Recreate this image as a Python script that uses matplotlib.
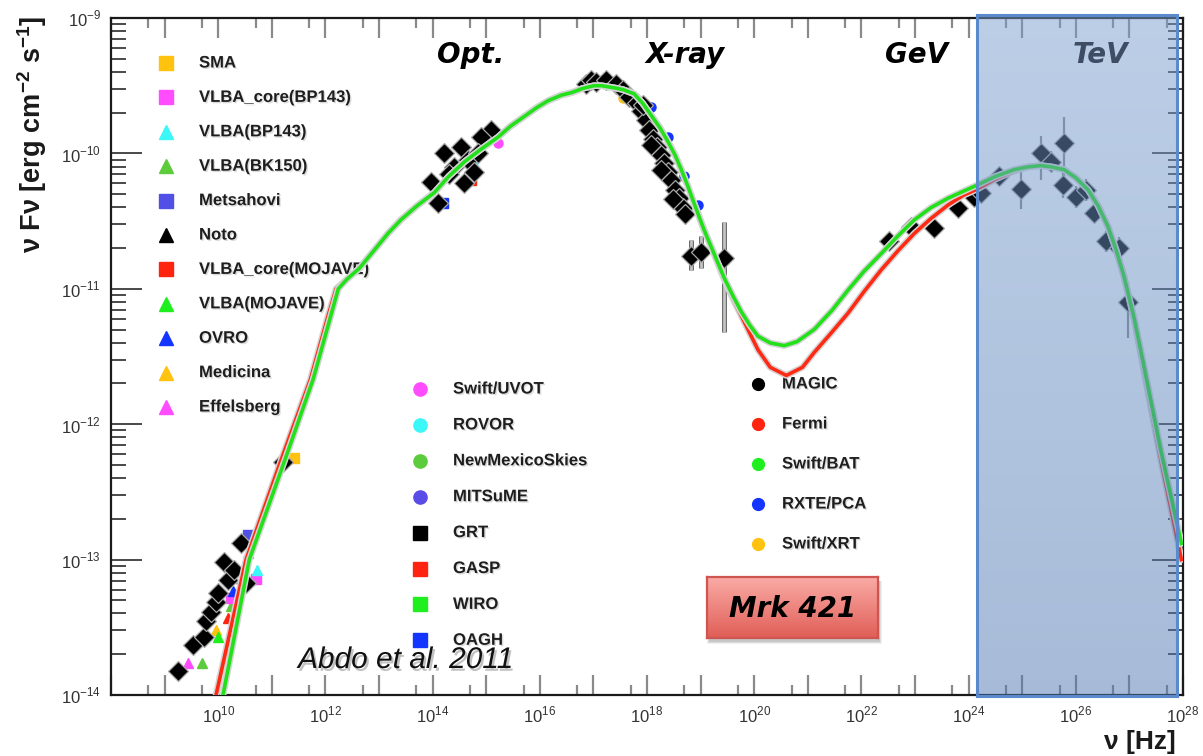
import numpy as np
import matplotlib.pyplot as plt
import matplotlib.patheffects as pe
from matplotlib.patches import Rectangle
from matplotlib.ticker import LogLocator, NullFormatter

W, H = 1203, 756

# SSC model curves: log10(nu [Hz]) and log10(nuFnu [erg cm-2 s-1])
green_lognu = [10.09, 10.58, 11.23, 11.77, 12.10, 12.24, 12.40, 12.63, 12.90, 13.17,
               13.41, 13.70, 14.03, 14.30, 14.60, 14.90, 15.22, 15.45, 15.70, 15.95,
               16.16, 16.40, 16.60, 16.80, 17.01, 17.15, 17.30, 17.45, 17.56, 17.66,
               17.76, 17.92, 18.08, 18.24, 18.40, 18.52, 18.64, 18.76, 18.88, 19.07,
               19.25, 19.44, 19.60, 19.76, 19.92, 20.07, 20.30, 20.56, 20.80, 21.12,
               21.45, 21.75, 22.05, 22.37, 22.68, 22.99, 23.30, 23.62, 23.90, 24.18,
               24.50, 24.85, 25.10, 25.35, 25.55, 25.78, 26.00, 26.23, 26.42, 26.60,
               26.75, 26.90, 27.09, 27.26, 27.59, 27.97]
green_logf = [-14.00, -13.00, -12.28, -11.67, -11.20, -11.00, -10.93, -10.85, -10.72, -10.59,
              -10.49, -10.39, -10.29, -10.17, -10.06, -9.97, -9.88, -9.80, -9.73, -9.66,
              -9.61, -9.57, -9.55, -9.52, -9.50, -9.50, -9.51, -9.52, -9.53, -9.545,
              -9.56, -9.63, -9.72, -9.81, -9.92, -10.01, -10.12, -10.24, -10.37, -10.57,
              -10.74, -10.92, -11.05, -11.17, -11.27, -11.35, -11.40, -11.42, -11.39, -11.30,
              -11.16, -11.01, -10.87, -10.74, -10.61, -10.49, -10.40, -10.33, -10.28, -10.23,
              -10.17, -10.12, -10.10, -10.09, -10.10, -10.12, -10.18, -10.27, -10.39, -10.54,
              -10.71, -10.91, -11.22, -11.55, -12.20, -12.88]

red_lognu = [9.96, 10.52, 11.16, 11.72, 12.05, 12.20, 12.40, 12.63, 12.90, 13.17,
             13.41, 13.70, 14.03, 14.30, 14.60, 14.90, 15.22, 15.45, 15.70, 15.95,
             16.16, 16.40, 16.60, 16.80, 17.01, 17.15, 17.30, 17.45, 17.56, 17.66,
             17.76, 17.92, 18.08, 18.24, 18.40, 18.52, 18.64, 18.76, 18.88, 19.07,
             19.25, 19.44, 19.60, 19.76, 19.92, 20.07, 20.30, 20.60, 20.90, 21.12,
             21.45, 21.75, 22.05, 22.37, 22.68, 22.99, 23.30, 23.62, 23.90, 24.18,
             24.50, 24.85, 25.10, 25.35, 25.55, 25.78, 26.00, 26.23, 26.42, 26.60,
             26.75, 26.90, 27.09, 27.26, 27.59, 27.97]
red_logf = [-14.00, -13.00, -12.28, -11.67, -11.20, -11.00, -10.93, -10.85, -10.72, -10.59,
            -10.49, -10.39, -10.29, -10.17, -10.06, -9.97, -9.88, -9.80, -9.73, -9.66,
            -9.61, -9.57, -9.55, -9.52, -9.50, -9.50, -9.51, -9.52, -9.53, -9.545,
            -9.56, -9.63, -9.72, -9.81, -9.92, -10.01, -10.12, -10.24, -10.37, -10.57,
            -10.74, -10.93, -11.07, -11.20, -11.33, -11.45, -11.58, -11.64, -11.58, -11.47,
            -11.32, -11.18, -11.02, -10.86, -10.72, -10.59, -10.48, -10.38, -10.31, -10.26,
            -10.19, -10.13, -10.10, -10.09, -10.10, -10.12, -10.18, -10.27, -10.39, -10.54,
            -10.71, -10.91, -11.23, -11.58, -12.27, -13.00]

# black diamonds (combined light curves per band)
radio_lognu = [9.25, 9.53, 9.74, 9.78, 9.87, 9.96, 10.00, 10.19, 10.11, 10.30, 10.43, 10.52, 11.21]
radio_logf = [-13.82, -13.63, -13.57, -13.45, -13.39, -13.31, -13.25, -13.15, -13.02, -13.08,
              -12.88, -13.17, -12.28]

optical_lognu = [14.10, 13.97, 14.22, 14.53, 14.66, 14.40, 14.78, 15.09, 14.91, 14.58, 14.30, 14.85]
optical_logf = [-10.37, -10.21, -10.00, -9.95, -10.05, -10.10, -10.14, -9.83, -9.88, -10.22,
                -10.15, -10.00]

xray_lognu = [16.87, 16.96, 17.05, 17.24, 17.43, 17.56, 17.67, 17.82, 17.89, 17.99,
              18.04, 18.12, 18.19, 18.26, 18.32, 18.40, 18.45, 18.53, 18.60, 18.68,
              18.71, 17.93, 18.08, 18.26, 18.49]
xray_logf = [-9.49, -9.46, -9.47, -9.46, -9.49, -9.53, -9.58, -9.63, -9.69, -9.75,
             -9.83, -9.89, -9.95, -10.01, -10.07, -10.14, -10.20, -10.27, -10.33, -10.40,
             -10.45, -9.64, -9.94, -10.12, -10.34]

hardx_lognu = [18.82, 19.01, 19.44]
hardx_logf = [-10.76, -10.73, -10.77]
hardx_err_lo = [0.10, 0.12, 0.55]
hardx_err_hi = [0.12, 0.12, 0.26]

fermi_lognu = [22.52, 22.93, 23.36, 23.81, 24.10]
fermi_logf = [-10.65, -10.54, -10.55, -10.40, -10.32]

magic_lognu = [24.24, 24.57, 24.98, 25.35, 25.54, 25.78, 25.76, 26.00, 26.19, 26.34, 26.57, 26.81, 26.98]
magic_logf = [-10.29, -10.17, -10.26, -10.00, -10.06, -9.92, -10.23, -10.32, -10.27, -10.44,
              -10.65, -10.70, -11.10]
magic_err_lo = [0.06, 0.07, 0.15, 0.20, 0.08, 0.25, 0.10, 0.08, 0.08, 0.06, 0.08, 0.08, 0.26]
magic_err_hi = [0.06, 0.07, 0.15, 0.13, 0.08, 0.19, 0.10, 0.08, 0.08, 0.06, 0.08, 0.08, 0.15]

# individual instruments: (log nu, log nuFnu), marker, colour
instruments = {
    'Effelsberg': ([9.44, 10.56], [-13.76, -12.95], '^', '#ff4cff'),
    'VLBA(BK150)': ([9.70, 10.24], [-13.76, -13.34], '^', '#5ccc3c'),
    'Medicina': ([9.96], [-13.52], '^', '#ffc20e'),
    'VLBA(MOJAVE)': ([10.00], [-13.57], '^', '#1fef1f'),
    'VLBA_core(MOJAVE)': ([10.19], [-13.43], '^', '#ff2410'),
    'VLBA_core(BP143)': ([10.24, 10.71], [-13.28, -13.14], 's', '#ff4cff'),
    'OVRO': ([10.28], [-13.23], '^', '#1434ff'),
    'Metsahovi': ([10.56], [-12.82], 's', '#5050e6'),
    'VLBA(BP143)': ([10.73], [-13.08], '^', '#3cf7f7'),
    'SMA': ([11.42], [-12.25], 's', '#ffc20e'),
    'OAGH': ([14.20], [-10.37], 's', '#1434ff'),
    'GASP': ([14.72], [-10.20], 's', '#ff2410'),
    'ROVOR': ([14.76], [-10.07], 'o', '#3cf7f7'),
    'Swift/UVOT': ([15.22], [-9.92], 'o', '#ff4cff'),
    'Swift/XRT': ([17.56], [-9.59], 'o', '#ffc20e'),
    'RXTE/PCA': ([18.08, 18.40, 18.69, 18.96], [-9.66, -9.88, -10.17, -10.38], 'o', '#1434ff'),
}

key1_labels = ['SMA', 'VLBA_core(BP143)', 'VLBA(BP143)', 'VLBA(BK150)', 'Metsahovi', 'Noto',
               'VLBA_core(MOJAVE)', 'VLBA(MOJAVE)', 'OVRO', 'Medicina', 'Effelsberg']
key1_markers = ['s', 's', '^', '^', 's', '^', 's', '^', '^', '^', '^']
key1_colors = ['#ffc20e', '#ff4cff', '#3cf7f7', '#5ccc3c', '#5050e6', '#000000',
               '#ff2410', '#1fef1f', '#1434ff', '#ffc20e', '#ff4cff']

key2_labels = ['Swift/UVOT', 'ROVOR', 'NewMexicoSkies', 'MITSuME', 'GRT', 'GASP', 'WIRO', 'OAGH']
key2_markers = ['o', 'o', 'o', 'o', 's', 's', 's', 's']
key2_colors = ['#ff4cff', '#3cf7f7', '#5ccc3c', '#5a4ce6', '#000000', '#ff2410', '#1fef1f', '#1434ff']

key3_labels = ['MAGIC', 'Fermi', 'Swift/BAT', 'RXTE/PCA', 'Swift/XRT']
key3_markers = ['o', 'o', 'o', 'o', 'o']
key3_colors = ['#000000', '#ff2410', '#1fef1f', '#1434ff', '#ffc20e']

band_labels = ['Opt.', 'X-ray', 'GeV', 'TeV']
band_centers = [471, 685, 917, 1100]


def fx(px):
    return px / W


def fy(py):
    return 1 - py / H


def p10(vals):
    return 10.0 ** np.asarray(vals)


plt.rcParams['font.family'] = 'Liberation Sans'
plt.rcParams['mathtext.fontset'] = 'custom'
plt.rcParams['mathtext.rm'] = 'Liberation Sans'
plt.rcParams['mathtext.bf'] = 'Liberation Sans:bold'

fig = plt.figure(figsize=(W / 100, H / 100), dpi=100)
ax = fig.add_axes([fx(111), fy(695), (1183 - 111) / W, (695 - 18) / H])

ax.set_xscale('log')
ax.set_yscale('log')
ax.set_xlim(1e8, 1e28)
ax.set_ylim(1e-14, 1e-9)

# axis styling, ROOT-like inward ticks on all four sides
for s in ax.spines.values():
    s.set_linewidth(1.6)
    s.set_color('#1a1a1a')

xmaj = p10(np.arange(8, 29))
ax.set_xticks(xmaj, labels=['$10^{%d}$' % e if e % 2 == 0 and e > 8 else '' for e in range(8, 29)])
ax.xaxis.set_minor_locator(LogLocator(base=10, subs=[5], numticks=100))
ax.xaxis.set_minor_formatter(NullFormatter())
ax.set_yticks(p10(np.arange(-14, -8)), labels=['$10^{%d}$' % e for e in range(-14, -8)])
ax.yaxis.set_minor_locator(LogLocator(base=10, subs=range(2, 10), numticks=100))
ax.yaxis.set_minor_formatter(NullFormatter())

ax.tick_params(axis='x', which='both', direction='in', top=True, bottom=True,
               color='#8a8a8a', width=1.6, labelsize=12, labelcolor='#333333', pad=7)
ax.tick_params(axis='x', which='major', length=14.5)
ax.tick_params(axis='x', which='minor', length=7)
ax.tick_params(axis='y', which='both', direction='in', left=True, right=True,
               color='#2a2a2a', width=1.2, labelsize=12, labelcolor='#333333', pad=7)
ax.tick_params(axis='y', which='major', length=22)
ax.tick_params(axis='y', which='minor', length=11)

# instrument markers
for name, (ln, lf, mk, col) in instruments.items():
    ax.plot(p10(ln), p10(lf), ls='none', marker=mk, ms=6.5, color=col, mec=col, zorder=2.5)

# error bars
diamond_kw = dict(ls='none', marker='D', ms=10.5, mfc='black', mec='#a8a8a8', mew=0.9, zorder=3)
bar_fx = [pe.Stroke(linewidth=3.4, foreground='#555555'), pe.Normal()]

hx = p10(hardx_logf)
eb = ax.errorbar(p10(hardx_lognu), hx,
                 yerr=[hx - p10(np.array(hardx_logf) - hardx_err_lo),
                       p10(np.array(hardx_logf) + hardx_err_hi) - hx],
                 fmt='none', ecolor='#c4c4c4', elinewidth=2, capsize=0, zorder=2.8)
eb[2][0].set_path_effects(bar_fx)

mg = p10(magic_logf)
eb = ax.errorbar(p10(magic_lognu), mg,
                 yerr=[mg - p10(np.array(magic_logf) - magic_err_lo),
                       p10(np.array(magic_logf) + magic_err_hi) - mg],
                 fmt='none', ecolor='#8c8c8c', elinewidth=1.6, capsize=0, zorder=2.8)

for ln, lf in [(radio_lognu, radio_logf), (optical_lognu, optical_logf),
               (xray_lognu, xray_logf), (hardx_lognu, hardx_logf),
               (fermi_lognu, fermi_logf), (magic_lognu, magic_logf)]:
    ax.plot(p10(ln), p10(lf), **diamond_kw)

# model curves
halo = [pe.Stroke(linewidth=4.8, foreground='#d4d4d4'), pe.Normal()]
ax.plot(p10(red_lognu), p10(red_logf), color='#ff2a14', lw=2.6, zorder=5,
        path_effects=halo, solid_joinstyle='round')
ax.plot(p10(green_lognu), p10(green_logf), color='#22e01a', lw=2.6, zorder=5.1,
        path_effects=halo, solid_joinstyle='round')

# keys drawn by hand in figure coordinates
text_fx = [pe.withSimplePatchShadow(offset=(1, -1), shadow_rgbFace='#999999', alpha=0.35)]


def draw_key(labels, markers, colors, x_mark, x_text, y_first, step, ms):
    for i, (lab, mk, col) in enumerate(zip(labels, markers, colors)):
        y = y_first + i * step
        ax.plot([fx(x_mark)], [fy(y)], marker=mk, ms=ms, color=col, mec=col, ls='none',
                transform=fig.transFigure, clip_on=False, zorder=1)
        ax.text(fx(x_text), fy(y), lab, transform=fig.transFigure, fontsize=12,
                fontweight='bold', color='#1e1e1e', ha='left', va='center', zorder=1,
                path_effects=text_fx)


draw_key(key1_labels, key1_markers, key1_colors, 166, 199, 63, 34.4, 9.5)
draw_key(key2_labels, key2_markers, key2_colors, 420, 453, 389, 35.9, 9.5)
draw_key(key3_labels, key3_markers, key3_colors, 758, 782, 384, 40.0, 8.5)

# axis titles
fig.text(fx(32), fy(134), r'ν Fν [erg cm$^{\mathbf{-2}}$ s$^{\mathbf{-1}}$]', rotation=90,
         ha='center', va='center', fontsize=19.5, fontweight='bold', color='#1a1a1a')
fig.text(fx(1176), fy(742), 'ν [Hz]', ha='right', va='center', fontsize=19,
         fontweight='bold', color='#1a1a1a')

# energy band names along the top
for lab, cx in zip(band_labels, band_centers):
    col = '#3e4c64' if lab == 'TeV' else 'black'
    fig.text(fx(cx), fy(55), lab, ha='center', va='center', fontsize=20, fontweight='bold',
             style='italic', family='DejaVu Sans', color=col, zorder=4)

fig.text(fx(298), fy(660), 'Abdo et al. 2011', ha='left', va='center', fontsize=21.5,
         style='italic', color='#111111',
         path_effects=[pe.withSimplePatchShadow(offset=(1.5, -2), shadow_rgbFace='#777777', alpha=0.45)])

# shaded TeV window
tev_ax = fig.add_axes([fx(977), fy(696), (1177 - 977) / W, (696 - 15) / H])
tev_ax.set_zorder(1)
t = np.linspace(0, 1, 256)[:, None]
top_c = np.array([0.48, 0.62, 0.81])
bot_c = np.array([0.31, 0.47, 0.70])
rgba = np.concatenate([top_c * (1 - t) + bot_c * t, np.full((256, 1), 0.5)], axis=1)
tev_ax.imshow(rgba[:, None, :], aspect='auto', extent=[0, 1, 0, 1], origin='upper')
tev_ax.set_facecolor('none')
tev_ax.set_xticks([])
tev_ax.set_yticks([])
for s in tev_ax.spines.values():
    s.set_color('#5a8acb')
    s.set_linewidth(2.2)

# source name tag
for k, a in enumerate([0.10, 0.08, 0.06]):
    fig.patches.append(Rectangle((fx(709 - k), fy(642 + k)), (171 + 2 * k) / W, (61 + k) / H,
                                 transform=fig.transFigure, color='black', alpha=a, lw=0))
mrk_ax = fig.add_axes([fx(707), fy(638), (878 - 707) / W, (638 - 577) / H])
mrk_ax.set_zorder(2)
r_top = np.array([0.98, 0.67, 0.65])
r_bot = np.array([0.88, 0.37, 0.34])
mrk_ax.imshow((r_top * (1 - t) + r_bot * t)[:, None, :], aspect='auto',
              extent=[0, 1, 0, 1], origin='upper')
mrk_ax.set_xticks([])
mrk_ax.set_yticks([])
for s in mrk_ax.spines.values():
    s.set_color('#cf5550')
    s.set_linewidth(1.6)
mrk_ax.text(0.5, 0.48, 'Mrk 421', transform=mrk_ax.transAxes, ha='center', va='center',
            fontsize=20, fontweight='bold', style='italic', family='DejaVu Sans', color='black')

fig.savefig('out.png', dpi=100)
